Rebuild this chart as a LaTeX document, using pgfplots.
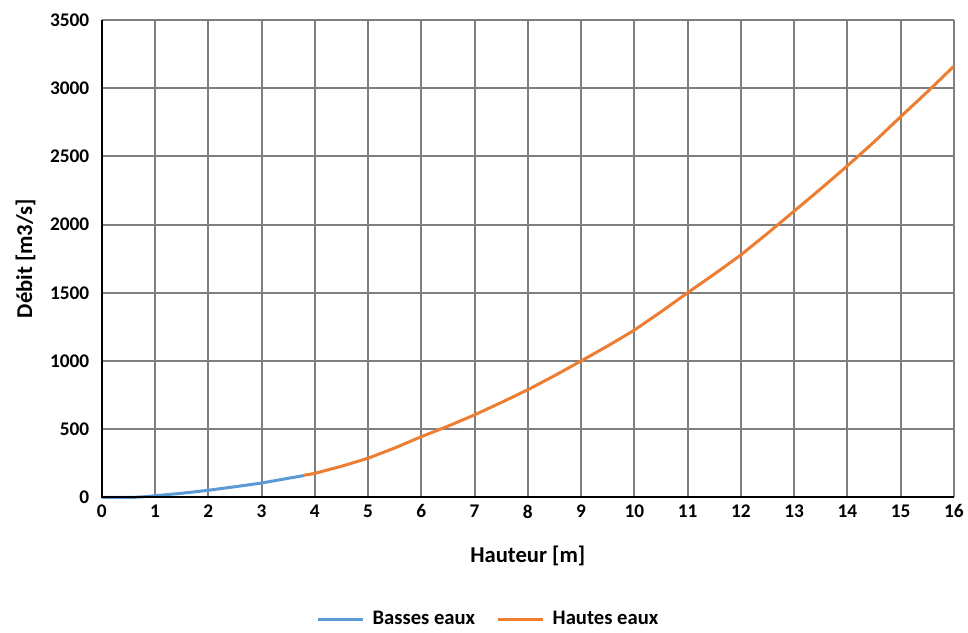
\documentclass[border=0pt]{standalone}
\usepackage{fontspec}
\setmainfont{Carlito}
\usepackage{pgfplots}
\pgfplotsset{compat=1.18}
\definecolor{cblue}{HTML}{5B9BD5}
\definecolor{corange}{HTML}{ED7D31}
\definecolor{cgrid}{HTML}{7F7F7F}
\begin{document}
\begin{tikzpicture}
\begin{axis}[
  scale only axis,
  width=639.75pt, height=358.5pt,
  xmin=0, xmax=16, ymin=0, ymax=3500,
  xtick={0,1,...,16}, ytick={0,500,...,3500},
  grid=major,
  major grid style={cgrid, line width=1.5pt},
  axis line style={draw=none},
  tick style={draw=none},
  axis x line*=bottom, axis y line*=left,
  /pgf/number format/assume math mode=true,
  /pgf/number format/1000 sep={},
  ticklabel style={font=\fontsize{14.5}{16}\selectfont\bfseries},
  xticklabel style={yshift=-2pt},
  yticklabel style={xshift=-6pt},
  xlabel={Hauteur [m]}, ylabel={Débit [m3/s]},
  label style={font=\fontsize{17}{19}\selectfont\bfseries},
  xlabel style={yshift=-14pt},
  ylabel style={yshift=4pt},
  legend style={at={(0.454,-0.255)}, anchor=center, draw=none, legend columns=2,
    font=\fontsize{15.5}{17}\selectfont\bfseries,
    /tikz/column 2/.style={column sep=14pt}},
  legend image code/.code={\draw[#1, line width=2.25pt] (0pt,0pt) -- (34pt,0pt); \path (38pt,0pt);},
  clip=false,
]
\addplot[cblue, line width=2.25pt] coordinates {
(0,0) (0.3,0) (0.6,0) (0.8,5) (1,12) (1.5,30) (2,52) (2.5,78) (3,105) (3.5,140) (3.8,160)
};
\addlegendentry{Basses eaux}
\addplot[corange, line width=2.25pt] coordinates {
(3.8,162) (4,176) (4.5,228) (5,287) (5.5,362) (6,445) (6.5,522) (7,605) (7.5,695) (8,789) (8.5,892) (9,1000) (9.5,1110) (10,1226) (10.5,1360) (11,1500) (11.5,1636) (12,1777) (12.5,1935) (13,2098) (13.5,2262) (14,2430) (14.5,2605) (15,2790) (15.5,2972) (16,3160)
};
\addlegendentry{Hautes eaux}
\draw[black, line width=1.5pt] (axis cs:0,3500) -- (axis cs:0,0) -- (axis cs:16,0);
\end{axis}
\path[use as bounding box] (-76.5pt,-99pt) rectangle (649.5pt,373.5pt);
\end{tikzpicture}
\end{document}
